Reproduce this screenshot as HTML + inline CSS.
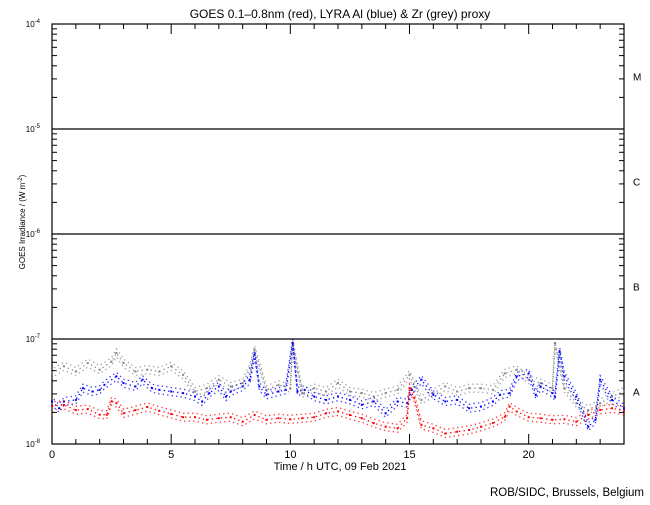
<!DOCTYPE html>
<html><head><meta charset="utf-8"><style>
body{margin:0;background:#fff;}
svg text{font-family:"Liberation Sans",sans-serif;fill:#000;}
</style></head><body>
<svg id="chart" width="650" height="500" viewBox="0 0 650 500" xmlns="http://www.w3.org/2000/svg">
<rect width="650" height="500" fill="#fff"/>
<text x="340" y="18" font-size="12" text-anchor="middle">GOES 0.1–0.8nm (red), LYRA Al (blue) &amp; Zr (grey) proxy</text>
<text x="0" y="0" font-size="8" text-anchor="middle" transform="translate(25,222) rotate(-90)">GOES Irradiance / (W m<tspan dy="-3" font-size="6">-2</tspan><tspan dy="3">)</tspan></text>
<text x="340" y="470" font-size="11" text-anchor="middle">Time / h UTC, 09 Feb 2021</text>
<text x="644" y="496" font-size="11.5" text-anchor="end">ROB/SIDC, Brussels, Belgium</text>
<g id="axes"></g>
<g id="series"></g>
</svg>
<script>
const redT=[0,0.5,1,1.5,2,2.3,2.5,2.7,3,3.5,4,4.5,5,5.5,6,6.5,7,7.5,8,8.5,9,9.5,10,10.5,11,11.5,12,12.5,13,13.5,14,14.5,14.9,15,15.2,15.5,16,16.5,17,17.5,18,18.5,19,19.2,19.5,20,20.5,21,21.5,22,22.5,23,23.5,24];
const redV=[2.3,2.36,2.1,2.15,1.9,1.9,2.55,2.45,1.96,2.1,2.25,2.07,1.93,1.8,1.8,1.7,1.76,1.8,1.63,1.89,1.7,1.76,1.72,1.76,1.8,1.96,2.04,1.89,1.76,1.58,1.46,1.41,1.76,3.4,2.73,1.52,1.41,1.26,1.31,1.36,1.46,1.58,1.82,2.27,2.04,1.8,1.76,1.7,1.72,1.63,1.89,2.11,2.19,2.07];
const blueT=[0,0.3,0.5,1,1.3,1.7,2,2.2,2.7,3,3.5,3.8,4.2,4.5,5,5.5,6,6.3,6.6,7,7.3,7.5,8,8.3,8.5,8.7,9,9.5,9.8,10.1,10.3,10.6,11,11.5,12,12.5,13,13.5,14,14.5,14.9,15.1,15.5,16,16.5,17,17.5,18,18.5,18.8,19.2,19.5,20,20.3,20.5,21,21.1,21.3,21.5,22,22.5,22.8,23,23.5,24];
const blueV=[2.54,2.19,2.54,2.63,3.4,3.16,3.28,3.66,4.4,3.8,3.53,4.1,3.4,3.28,3.16,3.05,2.83,2.54,3.05,3.53,2.83,3.16,3.53,4.1,7.1,3.53,2.94,3.16,3.28,9.16,3.16,3.28,2.83,2.63,2.83,2.63,2.36,2.54,1.96,2.54,2.45,3.28,4.1,2.94,2.54,2.63,2.19,2.27,2.54,2.94,3.05,4.4,4.7,2.94,3.53,3.05,2.83,7.6,4.4,2.83,1.46,1.7,4.1,2.63,2.19,2.11];
const greyT=[0,0.5,1,1.5,2,2.5,2.7,3,3.5,4,4.5,5,5.5,6,6.5,7,7.5,8,8.3,8.5,9,9.5,10,10.1,10.5,11,11.5,12,12.5,13,13.5,14,14.5,15,15.5,16,16.5,17,17.5,18,18.5,19,19.5,20,20.5,21,21.1,21.5,22,22.5,23,23.5,24];
const greyV=[4.7,5.5,4.9,5.9,5.1,6.1,7.36,5.9,4.9,5.1,4.9,5.5,4.56,3.16,3.4,4.1,3.53,3.8,5.3,7.9,3.28,3.66,3.4,9.16,3.05,3.4,3.16,3.8,3.16,3.05,2.83,3.05,3.28,4.56,2.63,3.05,3.53,3.16,3.4,3.4,3.28,4.7,5.1,4.1,3.8,3.4,9.16,3.4,2.45,2.11,2.45,2.83,3.16];
const xTickLabels=["0","5","10","15","20"];
const yExps=[-8,-7,-6,-5,-4];
const classLabels=["A","B","C","M"];

const NS="http://www.w3.org/2000/svg";
const L=52,R=624,T=24,B=444;
const xs=t=>L+(R-L)*t/24;
const ys=v=>B-(B-T)*(Math.log10(v*1e-8)+8)/4;
const ye=e=>B-(B-T)*(e+8)/4;
function mk(tag,attrs,parent){const el=document.createElementNS(NS,tag);for(const k in attrs)el.setAttribute(k,attrs[k]);parent.appendChild(el);return el;}
const axes=document.getElementById('axes');
const frame=mk('rect',{x:L,y:T,width:R-L,height:B-T,fill:'none',stroke:'#000','stroke-width':1.2},axes);


for(let h=0;h<=24;h++){
  const x=xs(h),len=h%5===0?10:5;
  const t1=mk('line',{x1:x,x2:x,y1:B,y2:B-len,stroke:'#000'},axes);
  
  
  const t2=mk('line',{x1:x,x2:x,y1:T,y2:T+len,stroke:'#000'},axes);
  
  
}
xTickLabels.forEach(s=>{
  const tx=mk('text',{x:xs(+s),y:458,'font-size':11,'text-anchor':'middle'},axes);
  tx.textContent=s;
  
  
});
yExps.forEach((e,i)=>{
  const y=ye(e);
  if(e>-8&&e<-4){
    const gl=mk('line',{x1:L,x2:R,y1:y,y2:y,stroke:'#000','stroke-width':1.2},axes);
    
    
  }
  const lab=mk('text',{x:40,y:y+3,'font-size':8,'text-anchor':'end'},axes);
  lab.textContent='10';
  const sp=mk('tspan',{dy:-4,'font-size':6},lab);
  sp.textContent=String(e);
  
  
  if(i<yExps.length-1){
    for(let m=1;m<10;m++){
      const yy=ys(Math.pow(10,e+8)*m);
      const len=m===1?10:5;
      const a=mk('line',{x1:L,x2:L+len,y1:yy,y2:yy,stroke:'#000'},axes);
      
      
      const b=mk('line',{x1:R,x2:R-len,y1:yy,y2:yy,stroke:'#000'},axes);
      
      
    }
  }
});
classLabels.forEach((c,i)=>{
  const tx=mk('text',{x:633,y:(ye(-8+i)+ye(-7+i))/2+4,'font-size':10},axes);
  tx.textContent=c;
  
  
});
const sg=document.getElementById('series');
function draw(T_,V,color,name){
  [[0,'0'],[-4,'2'],[4,'1']].forEach(([off,dof])=>{
    const pts=T_.map((t,i)=>xs(t).toFixed(1)+','+(ys(V[i])+off).toFixed(1)).join(' ');
    const pl=mk('polyline',{points:pts,fill:'none',stroke:color,'stroke-width':1.3,'stroke-dasharray':'1.3 3.2','stroke-dashoffset':dof,opacity:off===0?1:0.8},sg);
    
    
  });
  T_.forEach((t,i)=>{
    const d=mk('rect',{x:xs(t)-1,y:ys(V[i])-1,width:2,height:2,fill:color},sg);
    
    
  });
}
draw(greyT,greyV,'#888','zr-grey');
draw(blueT,blueV,'#0000ff','al-blue');
draw(redT,redV,'#ff0000','goes-red');
</script>
</body></html>
